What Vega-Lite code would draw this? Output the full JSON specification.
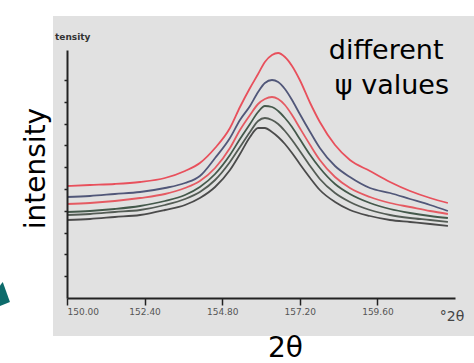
{
  "$schema": "https://vega.github.io/schema/vega-lite/v6.json",
  "width": 388,
  "height": 248,
  "autosize": {"type": "none"},
  "padding": {"left": 67, "top": 50, "right": 19, "bottom": 65},
  "background": "white",
  "config": {"view": {"stroke": null}, "font": "DejaVu Sans"},
  "datasets": {
    "one": [{}],
    "curves": [
      {"s": "c1", "x": 150.00, "y": 112}, {"s": "c1", "x": 150.71, "y": 113}, {"s": "c1", "x": 151.48, "y": 114}, {"s": "c1", "x": 152.26, "y": 116}, {"s": "c1", "x": 153.03, "y": 120}, {"s": "c1", "x": 153.65, "y": 127}, {"s": "c1", "x": 154.11, "y": 135}, {"s": "c1", "x": 154.58, "y": 150}, {"s": "c1", "x": 155.04, "y": 170}, {"s": "c1", "x": 155.35, "y": 191}, {"s": "c1", "x": 155.66, "y": 210}, {"s": "c1", "x": 155.91, "y": 224}, {"s": "c1", "x": 156.12, "y": 236}, {"s": "c1", "x": 156.34, "y": 243}, {"s": "c1", "x": 156.53, "y": 245}, {"s": "c1", "x": 156.74, "y": 241}, {"s": "c1", "x": 156.96, "y": 232}, {"s": "c1", "x": 157.20, "y": 218}, {"s": "c1", "x": 157.52, "y": 195}, {"s": "c1", "x": 157.82, "y": 176}, {"s": "c1", "x": 158.29, "y": 153}, {"s": "c1", "x": 158.75, "y": 138}, {"s": "c1", "x": 159.37, "y": 127}, {"s": "c1", "x": 159.99, "y": 116}, {"s": "c1", "x": 160.61, "y": 107}, {"s": "c1", "x": 161.23, "y": 100}, {"s": "c1", "x": 161.78, "y": 95},
      {"s": "c2", "x": 150.00, "y": 101}, {"s": "c2", "x": 150.71, "y": 102}, {"s": "c2", "x": 151.48, "y": 104}, {"s": "c2", "x": 152.26, "y": 106}, {"s": "c2", "x": 153.03, "y": 110}, {"s": "c2", "x": 153.65, "y": 115}, {"s": "c2", "x": 154.11, "y": 122}, {"s": "c2", "x": 154.58, "y": 140}, {"s": "c2", "x": 155.04, "y": 160}, {"s": "c2", "x": 155.35, "y": 178}, {"s": "c2", "x": 155.66, "y": 192}, {"s": "c2", "x": 155.91, "y": 206}, {"s": "c2", "x": 156.12, "y": 215}, {"s": "c2", "x": 156.34, "y": 218}, {"s": "c2", "x": 156.53, "y": 216}, {"s": "c2", "x": 156.74, "y": 209}, {"s": "c2", "x": 156.96, "y": 198}, {"s": "c2", "x": 157.20, "y": 184}, {"s": "c2", "x": 157.52, "y": 166}, {"s": "c2", "x": 157.82, "y": 150}, {"s": "c2", "x": 158.29, "y": 132}, {"s": "c2", "x": 158.75, "y": 121}, {"s": "c2", "x": 159.37, "y": 110}, {"s": "c2", "x": 159.99, "y": 105}, {"s": "c2", "x": 160.61, "y": 99}, {"s": "c2", "x": 161.23, "y": 93}, {"s": "c2", "x": 161.78, "y": 87},
      {"s": "c3", "x": 150.00, "y": 94}, {"s": "c3", "x": 150.71, "y": 95}, {"s": "c3", "x": 151.48, "y": 97}, {"s": "c3", "x": 152.26, "y": 100}, {"s": "c3", "x": 153.03, "y": 104}, {"s": "c3", "x": 153.65, "y": 110}, {"s": "c3", "x": 154.11, "y": 117}, {"s": "c3", "x": 154.58, "y": 130}, {"s": "c3", "x": 155.04, "y": 150}, {"s": "c3", "x": 155.35, "y": 168}, {"s": "c3", "x": 155.66, "y": 183}, {"s": "c3", "x": 155.91, "y": 194}, {"s": "c3", "x": 156.12, "y": 199}, {"s": "c3", "x": 156.34, "y": 201}, {"s": "c3", "x": 156.53, "y": 199}, {"s": "c3", "x": 156.74, "y": 193}, {"s": "c3", "x": 156.96, "y": 183}, {"s": "c3", "x": 157.20, "y": 170}, {"s": "c3", "x": 157.52, "y": 153}, {"s": "c3", "x": 157.82, "y": 138}, {"s": "c3", "x": 158.29, "y": 121}, {"s": "c3", "x": 158.75, "y": 110}, {"s": "c3", "x": 159.37, "y": 101}, {"s": "c3", "x": 159.99, "y": 95}, {"s": "c3", "x": 160.61, "y": 91}, {"s": "c3", "x": 161.23, "y": 87}, {"s": "c3", "x": 161.78, "y": 84},
      {"s": "c4", "x": 150.00, "y": 86}, {"s": "c4", "x": 150.71, "y": 87}, {"s": "c4", "x": 151.48, "y": 89}, {"s": "c4", "x": 152.26, "y": 92}, {"s": "c4", "x": 153.03, "y": 97}, {"s": "c4", "x": 153.65, "y": 103}, {"s": "c4", "x": 154.11, "y": 111}, {"s": "c4", "x": 154.58, "y": 124}, {"s": "c4", "x": 155.04, "y": 143}, {"s": "c4", "x": 155.35, "y": 159}, {"s": "c4", "x": 155.66, "y": 174}, {"s": "c4", "x": 155.91, "y": 186}, {"s": "c4", "x": 156.12, "y": 192}, {"s": "c4", "x": 156.34, "y": 191}, {"s": "c4", "x": 156.53, "y": 187}, {"s": "c4", "x": 156.74, "y": 180}, {"s": "c4", "x": 156.96, "y": 171}, {"s": "c4", "x": 157.20, "y": 159}, {"s": "c4", "x": 157.52, "y": 143}, {"s": "c4", "x": 157.82, "y": 130}, {"s": "c4", "x": 158.29, "y": 114}, {"s": "c4", "x": 158.75, "y": 104}, {"s": "c4", "x": 159.37, "y": 95}, {"s": "c4", "x": 159.99, "y": 89}, {"s": "c4", "x": 160.61, "y": 85}, {"s": "c4", "x": 161.23, "y": 82}, {"s": "c4", "x": 161.78, "y": 80},
      {"s": "c5", "x": 150.00, "y": 83}, {"s": "c5", "x": 150.71, "y": 84}, {"s": "c5", "x": 151.48, "y": 86}, {"s": "c5", "x": 152.26, "y": 88}, {"s": "c5", "x": 153.03, "y": 93}, {"s": "c5", "x": 153.65, "y": 99}, {"s": "c5", "x": 154.11, "y": 106}, {"s": "c5", "x": 154.58, "y": 118}, {"s": "c5", "x": 155.04, "y": 136}, {"s": "c5", "x": 155.35, "y": 151}, {"s": "c5", "x": 155.66, "y": 166}, {"s": "c5", "x": 155.91, "y": 177}, {"s": "c5", "x": 156.12, "y": 180}, {"s": "c5", "x": 156.34, "y": 178}, {"s": "c5", "x": 156.53, "y": 174}, {"s": "c5", "x": 156.74, "y": 167}, {"s": "c5", "x": 156.96, "y": 158}, {"s": "c5", "x": 157.20, "y": 147}, {"s": "c5", "x": 157.52, "y": 132}, {"s": "c5", "x": 157.82, "y": 119}, {"s": "c5", "x": 158.29, "y": 105}, {"s": "c5", "x": 158.75, "y": 96}, {"s": "c5", "x": 159.37, "y": 88}, {"s": "c5", "x": 159.99, "y": 83}, {"s": "c5", "x": 160.61, "y": 80}, {"s": "c5", "x": 161.23, "y": 78}, {"s": "c5", "x": 161.78, "y": 76},
      {"s": "c6", "x": 150.00, "y": 78}, {"s": "c6", "x": 150.71, "y": 79}, {"s": "c6", "x": 151.48, "y": 81}, {"s": "c6", "x": 152.26, "y": 83}, {"s": "c6", "x": 153.03, "y": 88}, {"s": "c6", "x": 153.65, "y": 93}, {"s": "c6", "x": 154.11, "y": 100}, {"s": "c6", "x": 154.58, "y": 111}, {"s": "c6", "x": 155.04, "y": 128}, {"s": "c6", "x": 155.35, "y": 144}, {"s": "c6", "x": 155.66, "y": 161}, {"s": "c6", "x": 155.91, "y": 170}, {"s": "c6", "x": 156.12, "y": 170}, {"s": "c6", "x": 156.34, "y": 166}, {"s": "c6", "x": 156.53, "y": 161}, {"s": "c6", "x": 156.74, "y": 154}, {"s": "c6", "x": 156.96, "y": 145}, {"s": "c6", "x": 157.20, "y": 134}, {"s": "c6", "x": 157.52, "y": 120}, {"s": "c6", "x": 157.82, "y": 108}, {"s": "c6", "x": 158.29, "y": 96}, {"s": "c6", "x": 158.75, "y": 88}, {"s": "c6", "x": 159.37, "y": 82}, {"s": "c6", "x": 159.99, "y": 78}, {"s": "c6", "x": 160.61, "y": 76}, {"s": "c6", "x": 161.23, "y": 74}, {"s": "c6", "x": 161.78, "y": 72}
    ]
  },
  "layer": [
    {
      "data": {"name": "one"},
      "mark": {"type": "rect", "color": "#e1e1e1"},
      "encoding": {
        "x": {"datum": 149.567, "type": "quantitative", "scale": {"domain": [150, 162], "nice": false, "zero": false}},
        "x2": {"datum": 162.59},
        "y": {"datum": -38, "type": "quantitative", "scale": {"domain": [0, 248], "nice": false, "zero": false}},
        "y2": {"datum": 282}
      }
    },
    {
      "data": {"name": "curves"},
      "mark": {"type": "line", "strokeWidth": 1.8, "interpolate": "monotone"},
      "encoding": {
        "x": {
          "field": "x", "type": "quantitative",
          "scale": {"domain": [150, 162], "nice": false, "zero": false},
          "axis": {
            "values": [150, 152.4, 154.8, 157.2, 159.6], "tickCount": 20, "format": ".2f", "grid": false,
            "labelFontSize": 9, "labelColor": "#555", "labelPadding": 2, "labelOverlap": false,
            "tickSize": 7, "tickWidth": 1.5, "tickColor": "#222", "domainColor": "#222", "domainWidth": 2,
            "title": "2θ", "titleFontSize": 28, "titleFontWeight": "normal", "titleColor": "#000",
            "titleX": 218, "titleY": 58, "titleBaseline": "alphabetic", "titleAlign": "center", "zindex": 2
          }
        },
        "y": {
          "field": "y", "type": "quantitative",
          "scale": {"domain": [0, 248], "nice": false, "zero": false},
          "axis": {
            "values": [21.8, 43.6, 65.4, 87.2, 109, 130.8, 152.6, 174.4, 196.2, 218], "tickCount": 20, "labels": false, "grid": false, "labelOverlap": false,
            "tickSize": 3, "tickWidth": 1.5, "tickColor": "#222", "domainColor": "#222", "domainWidth": 2,
            "title": "intensity", "titleFontSize": 28, "titleFontWeight": "normal", "titleColor": "#000",
            "titleAngle": 270, "titleX": -23, "titleY": 118, "titleBaseline": "alphabetic", "titleAlign": "center", "zindex": 2
          }
        },
        "color": {
          "field": "s", "type": "nominal", "legend": null,
          "scale": {"domain": ["c1", "c2", "c3", "c4", "c5", "c6"], "range": ["#e8505c", "#515779", "#e55a62", "#44594b", "#545c55", "#4b4b4b"]}
        }
      }
    },
    {
      "data": {"name": "one"},
      "mark": {"type": "text", "fontSize": 27, "align": "center", "baseline": "alphabetic", "color": "#000"},
      "encoding": {"x": {"datum": 159.87, "type": "quantitative"}, "y": {"datum": 239, "type": "quantitative"}, "text": {"value": "different"}}
    },
    {
      "data": {"name": "one"},
      "mark": {"type": "text", "fontSize": 27, "align": "center", "baseline": "alphabetic", "color": "#000"},
      "encoding": {"x": {"datum": 160.05, "type": "quantitative"}, "y": {"datum": 204, "type": "quantitative"}, "text": {"value": "ψ values"}}
    },
    {
      "data": {"name": "one"},
      "mark": {"type": "text", "fontSize": 9, "fontWeight": "bold", "align": "left", "baseline": "middle", "color": "#333"},
      "encoding": {"x": {"datum": 149.63, "type": "quantitative"}, "y": {"datum": 261, "type": "quantitative"}, "text": {"value": "tensity"}}
    },
    {
      "data": {"name": "one"},
      "mark": {"type": "text", "fontSize": 14, "align": "center", "baseline": "middle", "color": "#444"},
      "encoding": {"x": {"datum": 161.91, "type": "quantitative"}, "y": {"datum": -19, "type": "quantitative"}, "text": {"value": "°2θ"}}
    },
    {
      "data": {"name": "one"},
      "mark": {"type": "point", "filled": true, "color": "#0d6b6b", "opacity": 1, "size": 576, "shape": "M-0.1,-1L0.5,0.67L-0.35,1L-1.5,0.8Z"},
      "encoding": {"x": {"datum": 148.05, "type": "quantitative"}, "y": {"datum": 4, "type": "quantitative"}}
    }
  ]
}
